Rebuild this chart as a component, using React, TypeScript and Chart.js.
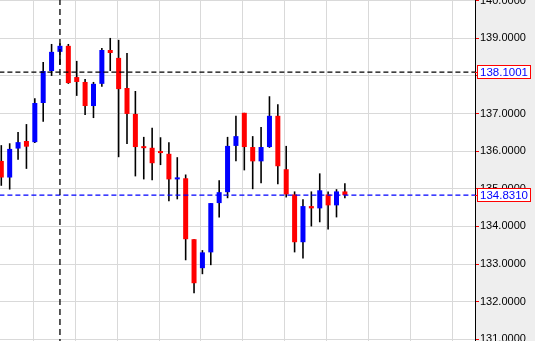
import React, { useEffect, useRef } from 'react';
import { Chart, registerables } from 'chart.js';

Chart.register(...registerables);

// Candle data
const opens = [
  135.74, 135.30, 136.07, 136.27, 136.24, 137.28, 138.13, 138.64, 138.80, 137.97,
  137.84, 137.20, 137.79, 138.69, 138.48, 137.68, 136.99, 136.11, 136.09, 135.98,
  135.93, 135.25, 135.28, 133.66, 132.89, 133.31, 134.62, 134.91, 136.14, 137.02,
  136.11, 135.73, 136.11, 136.94, 135.52, 134.85, 133.58, 134.54, 134.48, 134.85,
  134.56, 134.93,
];
const highs = [
  136.16, 136.21, 136.51, 136.72, 137.41, 138.37, 138.85, 138.87, 138.85, 138.40,
  137.92, 137.84, 138.74, 139.01, 138.96, 138.61, 137.60, 136.38, 136.62, 136.37,
  136.24, 135.84, 135.38, 133.66, 133.37, 134.62, 135.23, 136.38, 136.94, 137.02,
  136.40, 136.64, 137.46, 137.25, 136.14, 134.93, 134.72, 134.93, 135.41, 134.93,
  134.99, 135.15,
];
const lows = [
  135.08, 134.98, 135.77, 135.53, 136.22, 136.78, 138.00, 138.30, 137.79, 137.47,
  136.96, 136.88, 137.71, 138.13, 135.84, 136.19, 135.33, 135.25, 135.23, 135.63,
  134.67, 134.72, 133.10, 132.22, 132.73, 132.97, 134.24, 134.75, 135.73, 135.49,
  134.99, 135.15, 136.09, 135.12, 134.77, 133.31, 133.15, 134.00, 134.11, 133.92,
  134.24, 134.75,
];
const closes = [
  135.30, 136.06, 136.24, 136.12, 137.28, 138.13, 138.64, 138.80, 137.81, 137.84,
  137.20, 137.79, 138.69, 138.61, 137.65, 136.99, 136.11, 136.08, 135.68, 135.95,
  135.25, 135.28, 133.66, 132.49, 133.31, 134.62, 134.91, 136.14, 136.40, 136.11,
  135.73, 136.11, 136.94, 135.60, 134.85, 133.58, 134.54, 134.48, 134.96, 134.56,
  134.93, 134.831,
];

const yTicks = [131, 132, 133, 134, 135, 136, 137, 138, 139, 140];
const xGridLines = [3.82, 8.82, 13.82, 18.82, 23.82, 28.82, 33.82, 38.82, 43.82, 48.82, 53.82];

const crossIndex = 7;
const crossPrice = 138.1001;
const lastPrice = 134.831;

const UP = '#0000ff';
const DOWN = '#ff0000';
const FONT = '"Liberation Sans", Arial, sans-serif';

const bgPlugin = {
  id: 'bgPanel',
  beforeDraw(chart: any) {
    const { ctx, chartArea, width, height } = chart;
    ctx.save();
    ctx.fillStyle = '#ffffff';
    ctx.fillRect(0, 0, width, height);
    ctx.fillStyle = '#eeeeee';
    ctx.fillRect(chartArea.right, 0, width - chartArea.right, height);
    ctx.restore();
  },
};

const tagPlugin = {
  id: 'priceTags',
  afterDraw(chart: any) {
    const ys = chart.scales.y;
    const ctx = chart.ctx;
    const x0 = chart.chartArea.right;
    [crossPrice, lastPrice].forEach((p) => {
      const py = Math.round(ys.getPixelForValue(p));
      ctx.save();
      ctx.strokeStyle = '#ff0000';
      ctx.lineWidth = 1;
      ctx.beginPath();
      ctx.moveTo(x0, py + 0.5);
      ctx.lineTo(x0 + 3, py + 0.5);
      ctx.stroke();
      ctx.fillStyle = '#ffffff';
      ctx.fillRect(x0 + 2.5, py - 6.5, 53, 13);
      ctx.strokeRect(x0 + 2.5, py - 6.5, 53, 13);
      ctx.fillStyle = '#0000ff';
      ctx.font = '11.5px ' + FONT;
      ctx.textBaseline = 'middle';
      ctx.textAlign = 'left';
      ctx.fillText(p.toFixed(4), x0 + 5, py + 1);
      ctx.restore();
    });
  },
};

export default function App() {
  const ref = useRef<HTMLCanvasElement | null>(null);

  useEffect(() => {
    if (!ref.current) return;
    const idx = opens.map((_, i) => i);
    const chart = new Chart(ref.current, {
      type: 'bar',
      data: {
        datasets: [
          {
            type: 'line',
            data: [
              { x: crossIndex, y: 125 },
              { x: crossIndex, y: 145 },
            ],
            borderColor: '#000000',
            borderWidth: 1.3,
            borderDash: [6, 4],
            pointRadius: 0,
            order: 0,
          } as any,
          {
            type: 'line',
            data: [
              { x: -5, y: crossPrice },
              { x: 70, y: crossPrice },
            ],
            borderColor: '#000000',
            borderWidth: 1.3,
            borderDash: [5, 3],
            pointRadius: 0,
            order: 0,
          } as any,
          {
            type: 'line',
            data: [
              { x: -5, y: lastPrice },
              { x: 70, y: lastPrice },
            ],
            borderColor: '#0000ff',
            borderWidth: 1.3,
            borderDash: [5, 3],
            pointRadius: 0,
            order: 0,
          } as any,
          {
            type: 'bar',
            data: idx.map((i) => ({ x: i, y: [lows[i], highs[i]] })),
            backgroundColor: '#000000',
            barThickness: 1.6,
            grouped: false,
            inflateAmount: 0,
            borderWidth: 0,
            order: 2,
          } as any,
          {
            type: 'bar',
            data: idx.map((i) => ({ x: i, y: [opens[i], closes[i]] })),
            backgroundColor: idx.map((i) => (closes[i] >= opens[i] ? UP : DOWN)),
            barThickness: 5,
            minBarLength: 2,
            grouped: false,
            inflateAmount: 0,
            borderWidth: 0,
            order: 1,
          } as any,
        ],
      },
      options: {
        responsive: false,
        devicePixelRatio: 1,
        animation: false,
        events: [],
        layout: { padding: 0 },
        plugins: { legend: { display: false }, tooltip: { enabled: false } },
        scales: {
          x: {
            type: 'linear',
            min: -0.155,
            max: 56.528,
            offset: false,
            afterBuildTicks: (s: any) => {
              s.ticks = xGridLines.map((v) => ({ value: v }));
            },
            afterFit: (s: any) => {
              s.height = 0;
              s.paddingLeft = 0;
              s.paddingRight = 0;
            },
            ticks: { display: false },
            grid: { color: '#d9d9d9', drawTicks: false, offset: false, lineWidth: 1 },
            border: { display: false },
          },
          y: {
            type: 'linear',
            position: 'right',
            min: 130.954,
            max: 140.0186,
            afterBuildTicks: (s: any) => {
              s.ticks = yTicks.map((v) => ({ value: v }));
            },
            afterFit: (s: any) => {
              s.width = 60;
              s.paddingTop = 0;
              s.paddingBottom = 0;
            },
            ticks: {
              color: '#000000',
              padding: 1,
              font: { family: FONT, size: 11 },
              callback: (v: any) => Number(v).toFixed(4),
            },
            grid: { color: '#d9d9d9', tickColor: '#ff0000', tickLength: 4, lineWidth: 1 },
            border: { color: '#000000', width: 1 },
          },
        },
      } as any,
      plugins: [bgPlugin, tagPlugin],
    });
    return () => chart.destroy();
  }, []);

  return (
    <div style={{ position: 'fixed', left: 0, top: 0, width: 535, height: 341, overflow: 'hidden' }}>
      <canvas ref={ref} width={535} height={341} style={{ display: 'block' }} />
    </div>
  );
}
